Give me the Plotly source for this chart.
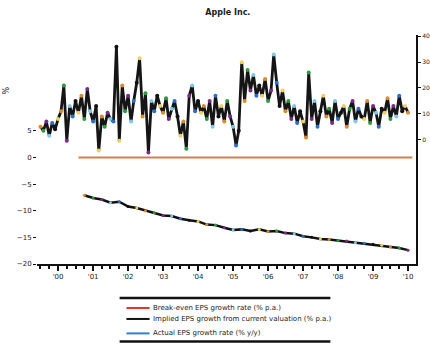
import plotly.graph_objects as go
import pandas as pd

# ---------------- data ----------------
title_text = "Apple Inc."

# monthly series (right axis), Jul 1999 .. Jan 2010
vol_start = "1999-07-01"
vol_values = [
    5, 3.5, 7, 1.5, 6.5, 4, 8,
    11, 21, -0.4, 13, 9, 15,
    10.4, 17, 8, 19.6, 11, 7, 13,
    -4.2, 9, 5, 10.4, 8, 7, 36,
    -0.4, 21, 11, 17, 7, 15, 22,
    31.5, 9, 18, -5, 15, 11, 17,
    13, 10.4, 16, 8, 12, 15, 9,
    1.5, 7, -3.5, 17, 21, 11, 15,
    10.4, 13, 8, 15, 5, 17, 9,
    13, 7, 15, 9, 5, -2.3, 3.5,
    30, 15, 27, 19, 25, 17, 21,
    17, 23.5, 15, 19, 33, 22, 13,
    19, 11, 15, 8, 13, 6.5, 11,
    7, 0.8, 26, 8, 15, 5, 11,
    17, 9, 12, 6.5, 15, 8, 10.4,
    13, 5, 12, 15, 7, 12, 9,
    8, 15, 6.5, 13, 10.4, 5, 12,
    10.4, 16, 8, 13, 9, 17, 11,
    13, 10.4,
]

# quarterly series (left axis), Oct 2000 .. Jan 2010
dec_start = "2000-10-01"
dec_values = [
    -7.1, -7.6, -7.9, -8.5, -8.3, -9.2, -9.5, -10.0, -10.4, -10.9,
    -11.0, -11.5, -11.8, -12.0, -12.6, -12.7, -13.2, -13.6, -13.5, -13.8,
    -13.5, -13.9, -13.8, -14.2, -14.3, -14.8, -15.0, -15.3, -15.4, -15.6,
    -15.7, -16.0, -16.1, -16.3, -16.5, -16.8, -17.0, -17.4,
]

# flat reference line (left axis)
flat_dates = ["2000-08-01", "2010-02-15"]
flat_values = [0, 0]

left_ticks = [-20, -15, -10, -5, 0, 5]
right_ticks = [0, 10, 20, 30, 40]
x_ticks = [f"{y}-01-01" for y in range(2000, 2011)]
x_ticklabels = [f"'{str(y)[2:]}" for y in range(2000, 2011)]

legend_labels = [
    "Break-even EPS growth rate (% p.a.)",
    "Implied EPS growth from current valuation (% p.a.)",
    "Actual EPS growth rate (% y/y)",
]
legend_colors = ["#e8302a", "#111111", "#2f7fd8"]
left_title = "%"

# ---------------- figure ----------------
vol_dates = pd.date_range(vol_start, periods=len(vol_values), freq="MS")
dec_dates = pd.date_range(dec_start, periods=len(dec_values), freq="3MS")
speck_palette = ["#e08a2a", "#2a9d3a", "#7b2a8f", "#7ec8f0", "#2a6fd0", "#111111", "#f0d060"]
speck_colors = [speck_palette[i % len(speck_palette)] for i in range(len(vol_values))]

fig = go.Figure()
fig.add_trace(go.Scatter(x=flat_dates, y=flat_values, mode="lines",
                         line=dict(color="#cf8052", width=2), showlegend=False, yaxis="y"))
fig.add_trace(go.Scatter(x=dec_dates, y=dec_values, mode="lines+markers",
                         line=dict(color="#111111", width=2.5),
                         marker=dict(size=3, color=speck_colors[:len(dec_values)]),
                         showlegend=False, yaxis="y"))
fig.add_trace(go.Scatter(x=vol_dates, y=vol_values, mode="lines+markers",
                         line=dict(color="#151515", width=2.8),
                         marker=dict(size=4, color=speck_colors),
                         showlegend=False, yaxis="y2"))

# manual legend
shapes = []
annotations = []
lx0, lx1 = 0.218, 0.774
shapes.append(dict(type="line", xref="paper", yref="paper", x0=lx0, x1=lx1, y0=-0.148, y1=-0.148,
                   line=dict(color="#111", width=2.5)))
shapes.append(dict(type="line", xref="paper", yref="paper", x0=lx0, x1=lx1, y0=-0.338, y1=-0.338,
                   line=dict(color="#111", width=2.5)))
entry_y = [-0.192, -0.24, -0.303]
for lab, col, yy in zip(legend_labels, legend_colors, entry_y):
    shapes.append(dict(type="line", xref="paper", yref="paper", x0=0.236, x1=0.297, y0=yy, y1=yy,
                       line=dict(color=col, width=2)))
    annotations.append(dict(text=lab, xref="paper", yref="paper", x=0.302, y=yy,
                            xanchor="left", yanchor="middle", showarrow=False,
                            font=dict(size=7, color="#222")))

annotations.append(dict(text=left_title, xref="paper", yref="paper", x=-0.078, y=0.76,
                        xanchor="center", yanchor="middle", showarrow=False, textangle=-90,
                        font=dict(size=8, color="#222")))

fig.update_layout(
    width=430, height=343,
    margin=dict(l=37, r=14, t=35, b=79),
    paper_bgcolor="white", plot_bgcolor="white",
    font=dict(family="DejaVu Sans", size=7, color="#222"),
    title=dict(text=f"<b>{title_text}</b>", x=0.53, xanchor="center", y=0.965, yanchor="middle",
               font=dict(size=8, color="#222")),
    showlegend=False,
    xaxis=dict(type="date", range=["1999-05-26", "2010-03-25"],
               tickvals=x_ticks, ticktext=x_ticklabels, automargin=False,
               showline=True, linecolor="#111", linewidth=2,
               ticks="outside", ticklen=5, tickcolor="#111", tickwidth=1.5,
               minor=dict(dtick="M3", ticks="outside", ticklen=3, tickcolor="#111"),
               showgrid=False, zeroline=False, tickfont=dict(size=7)),
    yaxis=dict(range=[-20, 23], tickvals=left_ticks, showline=False, automargin=False,
               ticks="outside", ticklen=3, tickcolor="#111",
               showgrid=False, zeroline=False, tickfont=dict(size=7)),
    yaxis2=dict(range=[-48.1, 40.5], tickvals=right_ticks, overlaying="y", side="right",
                showline=True, linecolor="#111", linewidth=2, automargin=False,
                ticks="outside", ticklen=3, tickcolor="#111",
                showgrid=False, zeroline=False, tickfont=dict(size=6)),
    shapes=shapes, annotations=annotations,
)

fig.write_html("out.html")
